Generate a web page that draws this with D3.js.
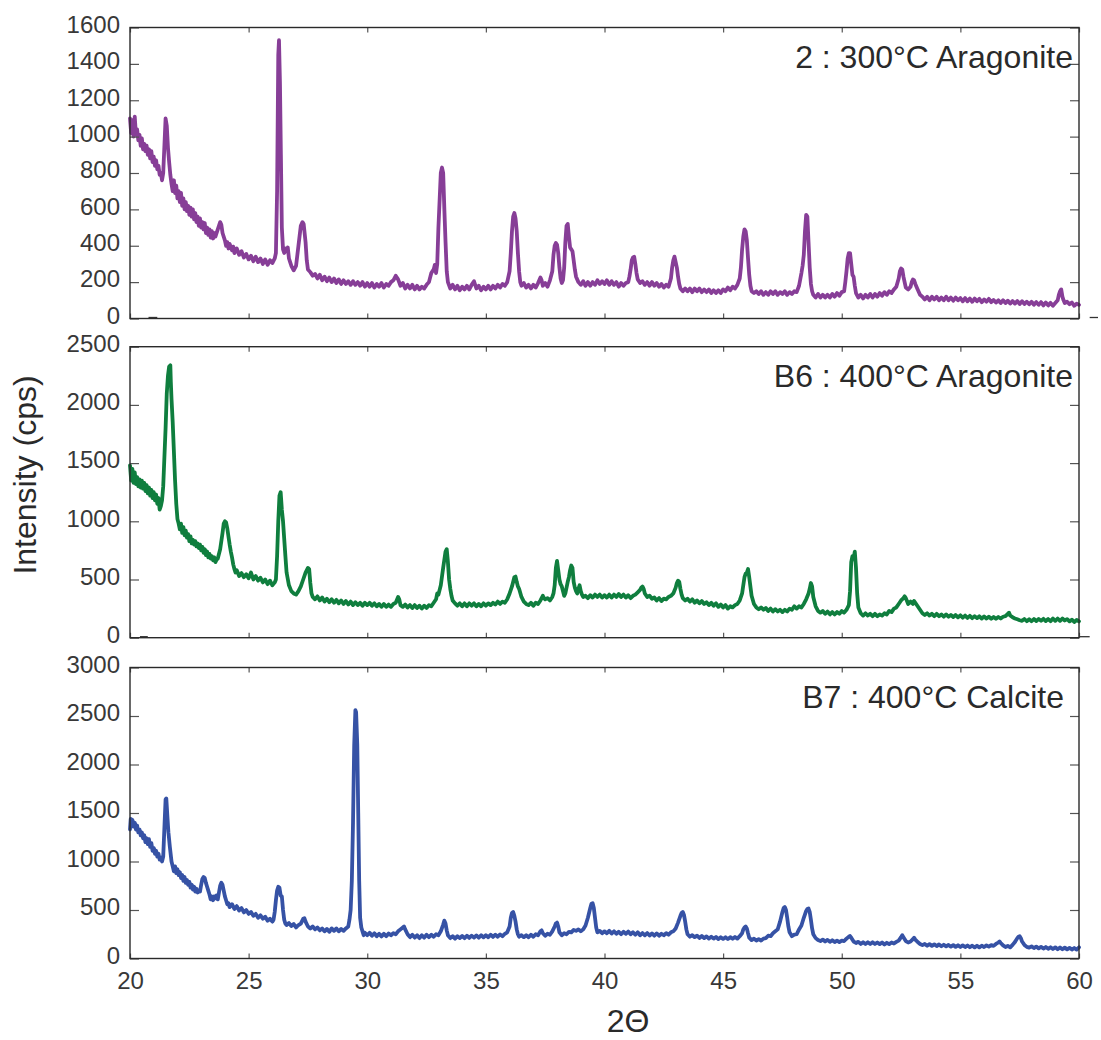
<!DOCTYPE html>
<html>
<head>
<meta charset="utf-8">
<script src="https://cdn.jsdelivr.net/npm/d3@7"></script>
<style>
  html, body { margin: 0; padding: 0; background: #fff; }
  text { font-family: "Liberation Sans", Arial, Helvetica, sans-serif; }
</style>
</head>
<body>
<script>
// ---------------- DATA ----------------
const xTicks = [20, 25, 30, 35, 40, 45, 50, 55, 60];
const yTicksA = [0, 200, 400, 600, 800, 1000, 1200, 1400, 1600];
const yTicksB = [0, 500, 1000, 1500, 2000, 2500];
const yTicksC = [0, 500, 1000, 1500, 2000, 2500, 3000];
const sampleLabels = ["2 : 300°C Aragonite", "B6 : 400°C Aragonite", "B7 : 400°C Calcite"];
const yAxisTitle = "Intensity (cps)";
const xAxisTitle = "2Θ";

// 2 : 300°C Aragonite  [2θ, intensity]
const sample2 = [
[20.0,1100],[20.05,1020],[20.1,1090],[20.15,1000],[20.2,1110],[20.25,1010],[20.3,1040],[20.35,980],[20.4,1010],[20.45,950],
[20.5,990],[20.55,930],[20.6,960],[20.65,920],[20.7,950],[20.75,900],[20.8,930],[20.85,880],[20.9,920],[20.95,860],
[21.0,890],[21.05,840],[21.1,870],[21.15,820],[21.2,840],[21.25,790],[21.3,800],[21.35,760],[21.4,800],[21.45,950],
[21.5,1100],[21.55,1060],[21.6,940],[21.65,860],[21.7,790],[21.75,740],[21.8,700],[21.85,760],[21.9,690],[21.95,730],
[22.0,660],[22.05,700],[22.1,640],[22.15,690],[22.2,620],[22.25,660],[22.3,600],[22.35,640],[22.4,590],[22.45,620],
[22.5,570],[22.55,610],[22.6,560],[22.65,600],[22.7,545],[22.75,580],[22.8,530],[22.85,560],[22.9,510],[22.95,550],
[23.0,500],[23.05,530],[23.1,490],[23.15,525],[23.2,470],[23.25,500],[23.3,460],[23.35,490],[23.4,445],[23.45,480],
[23.5,440],[23.55,470],[23.6,450],[23.7,490],[23.8,530],[23.85,515],[23.9,470],[24.0,430],[24.05,400],[24.1,420],
[24.15,385],[24.2,410],[24.3,375],[24.35,395],[24.4,360],[24.5,385],[24.6,350],[24.7,370],[24.8,335],[24.9,355],
[25.0,325],[25.1,345],[25.2,315],[25.3,340],[25.4,310],[25.5,330],[25.6,300],[25.7,325],[25.8,295],[25.9,320],
[26.0,305],[26.1,330],[26.15,360],[26.2,700],[26.25,1450],[26.28,1530],[26.32,1300],[26.36,900],[26.4,500],[26.45,380],
[26.5,360],[26.55,385],[26.6,370],[26.65,390],[26.7,330],[26.75,310],[26.8,290],[26.9,265],[27.0,290],[27.1,400],
[27.2,510],[27.27,530],[27.32,520],[27.4,420],[27.45,320],[27.5,270],[27.6,255],[27.7,235],[27.8,245],[27.9,220],
[28.0,240],[28.1,210],[28.2,230],[28.3,205],[28.4,225],[28.5,200],[28.6,220],[28.7,195],[28.8,215],[28.9,190],
[29.0,210],[29.1,190],[29.2,205],[29.3,185],[29.4,205],[29.5,185],[29.6,200],[29.7,180],[29.8,200],[29.9,175],
[30.0,195],[30.1,175],[30.2,195],[30.3,170],[30.4,190],[30.5,175],[30.6,195],[30.7,170],[30.8,190],[30.9,180],
[31.0,200],[31.1,210],[31.2,235],[31.3,215],[31.4,180],[31.5,195],[31.6,165],[31.7,185],[31.8,165],[31.9,185],
[32.0,160],[32.1,180],[32.2,160],[32.3,175],[32.4,165],[32.5,185],[32.6,200],[32.7,250],[32.8,270],[32.85,295],
[32.9,250],[32.95,300],[33.0,500],[33.1,800],[33.15,830],[33.2,800],[33.25,600],[33.3,420],[33.35,260],[33.4,200],
[33.5,165],[33.6,185],[33.7,160],[33.8,180],[33.9,155],[34.0,175],[34.1,160],[34.2,180],[34.3,160],[34.4,185],
[34.5,205],[34.6,165],[34.7,180],[34.8,155],[34.9,175],[35.0,160],[35.1,180],[35.2,160],[35.3,180],[35.4,165],
[35.5,185],[35.6,170],[35.7,190],[35.8,180],[35.9,200],[36.0,260],[36.05,360],[36.1,480],[36.15,560],[36.2,580],
[36.25,550],[36.3,480],[36.35,360],[36.4,260],[36.45,200],[36.5,180],[36.6,195],[36.7,170],[36.8,185],[36.9,165],
[37.0,185],[37.1,170],[37.2,195],[37.3,225],[37.35,210],[37.4,180],[37.5,195],[37.6,175],[37.7,210],[37.8,260],
[37.85,350],[37.9,400],[37.95,415],[38.0,405],[38.05,360],[38.1,280],[38.15,220],[38.2,195],[38.25,210],[38.3,280],
[38.35,420],[38.4,510],[38.45,520],[38.5,450],[38.55,390],[38.6,380],[38.65,370],[38.7,320],[38.75,270],[38.8,230],
[38.9,200],[39.0,185],[39.1,205],[39.2,180],[39.3,200],[39.4,180],[39.5,200],[39.6,185],[39.7,210],[39.8,190],
[39.9,205],[40.0,190],[40.1,210],[40.2,185],[40.3,205],[40.4,185],[40.5,200],[40.6,175],[40.7,195],[40.8,180],
[40.9,195],[41.0,200],[41.05,230],[41.1,270],[41.15,320],[41.2,335],[41.25,340],[41.3,300],[41.35,250],[41.4,215],
[41.5,195],[41.6,205],[41.7,185],[41.8,200],[41.9,180],[42.0,200],[42.1,180],[42.2,195],[42.3,175],[42.4,190],
[42.5,170],[42.6,185],[42.7,175],[42.8,220],[42.85,280],[42.9,320],[42.95,340],[43.0,310],[43.05,280],[43.1,230],
[43.15,190],[43.2,165],[43.3,150],[43.4,165],[43.5,150],[43.6,165],[43.7,145],[43.8,165],[43.9,150],[44.0,165],
[44.1,145],[44.2,160],[44.3,145],[44.4,160],[44.5,140],[44.6,155],[44.7,140],[44.8,155],[44.9,140],[45.0,160],
[45.1,150],[45.2,170],[45.3,155],[45.4,175],[45.5,165],[45.6,185],[45.7,220],[45.75,280],[45.8,380],[45.85,450],
[45.9,490],[45.95,480],[46.0,430],[46.05,330],[46.1,240],[46.15,180],[46.2,150],[46.3,140],[46.4,150],[46.5,135],
[46.6,150],[46.7,130],[46.8,145],[46.9,130],[47.0,150],[47.1,135],[47.2,150],[47.3,130],[47.4,145],[47.5,135],
[47.6,150],[47.7,130],[47.8,145],[47.9,135],[48.0,150],[48.1,145],[48.2,180],[48.3,250],[48.35,290],[48.4,350],
[48.45,480],[48.5,570],[48.55,560],[48.6,420],[48.65,280],[48.7,190],[48.75,150],[48.8,130],[48.9,115],[49.0,135],
[49.1,115],[49.2,130],[49.3,115],[49.4,130],[49.5,115],[49.6,135],[49.7,120],[49.8,140],[49.9,125],[50.0,145],
[50.1,150],[50.15,200],[50.2,260],[50.25,330],[50.3,360],[50.35,360],[50.4,300],[50.45,240],[50.5,230],[50.55,180],
[50.6,140],[50.7,115],[50.8,130],[50.9,110],[51.0,130],[51.1,115],[51.2,135],[51.3,115],[51.4,135],[51.5,120],
[51.6,140],[51.7,125],[51.8,145],[51.9,130],[52.0,150],[52.1,140],[52.2,160],[52.3,175],[52.4,220],[52.45,260],
[52.5,275],[52.55,270],[52.6,230],[52.65,200],[52.7,170],[52.8,160],[52.9,175],[52.95,200],[53.0,215],[53.05,210],
[53.1,190],[53.2,160],[53.3,130],[53.4,120],[53.5,105],[53.6,120],[53.7,100],[53.8,120],[53.9,105],[54.0,120],
[54.1,100],[54.2,115],[54.3,100],[54.4,120],[54.5,100],[54.6,115],[54.7,98],[54.8,115],[54.9,100],[55.0,112],
[55.1,95],[55.2,112],[55.3,95],[55.4,110],[55.5,92],[55.6,110],[55.7,95],[55.8,108],[55.9,90],[56.0,105],
[56.1,92],[56.2,108],[56.3,90],[56.4,102],[56.5,88],[56.6,100],[56.7,85],[56.8,100],[56.9,85],[57.0,98],
[57.1,82],[57.2,96],[57.3,82],[57.4,96],[57.5,80],[57.6,95],[57.7,80],[57.8,92],[57.9,78],[58.0,92],
[58.1,76],[58.2,90],[58.3,75],[58.4,90],[58.5,72],[58.6,88],[58.7,72],[58.8,86],[58.9,70],[59.0,85],
[59.1,100],[59.15,130],[59.2,150],[59.25,160],[59.3,120],[59.35,100],[59.4,85],[59.5,92],[59.6,78],[59.7,88],
[59.8,70],[59.9,82],[60.0,75]
];

// B6 : 400°C Aragonite
const sampleB6 = [
[20.0,1480],[20.05,1350],[20.1,1450],[20.15,1330],[20.2,1420],[20.25,1320],[20.3,1380],[20.35,1300],[20.4,1360],[20.45,1290],
[20.5,1350],[20.55,1280],[20.6,1330],[20.65,1260],[20.7,1310],[20.75,1240],[20.8,1290],[20.85,1220],[20.9,1270],[20.95,1200],
[21.0,1250],[21.05,1180],[21.1,1230],[21.15,1150],[21.2,1200],[21.25,1100],[21.3,1130],[21.35,1180],[21.4,1300],[21.45,1550],
[21.5,1800],[21.55,2100],[21.6,2250],[21.65,2330],[21.7,2340],[21.72,2200],[21.75,2050],[21.8,1850],[21.85,1600],[21.9,1350],
[21.95,1150],[22.0,1020],[22.05,980],[22.1,930],[22.15,980],[22.2,900],[22.25,950],[22.3,880],[22.35,920],[22.4,860],
[22.45,890],[22.5,830],[22.55,870],[22.6,810],[22.65,840],[22.7,800],[22.75,830],[22.8,785],[22.85,810],[22.9,770],
[22.95,800],[23.0,750],[23.05,780],[23.1,730],[23.15,760],[23.2,710],[23.25,740],[23.3,690],[23.35,720],[23.4,680],
[23.45,700],[23.5,665],[23.55,690],[23.6,650],[23.65,670],[23.7,680],[23.8,760],[23.9,900],[23.95,980],[24.0,1000],
[24.05,990],[24.1,940],[24.15,870],[24.2,800],[24.25,740],[24.3,690],[24.35,630],[24.4,590],[24.45,560],[24.5,580],
[24.6,530],[24.7,555],[24.8,520],[24.9,545],[25.0,510],[25.1,560],[25.2,500],[25.3,530],[25.4,490],[25.5,515],
[25.6,475],[25.7,500],[25.8,460],[25.9,490],[26.0,450],[26.1,475],[26.15,500],[26.2,700],[26.25,1000],[26.3,1220],
[26.35,1250],[26.4,1100],[26.45,1000],[26.5,850],[26.55,700],[26.6,560],[26.7,450],[26.8,400],[26.9,380],[27.0,370],
[27.1,400],[27.2,440],[27.3,500],[27.4,560],[27.5,600],[27.55,590],[27.6,470],[27.65,380],[27.7,350],[27.8,330],
[27.9,355],[28.0,320],[28.1,345],[28.2,310],[28.3,335],[28.4,305],[28.5,330],[28.6,300],[28.7,325],[28.8,295],
[28.9,320],[29.0,290],[29.1,315],[29.2,285],[29.3,310],[29.4,280],[29.5,305],[29.6,280],[29.7,300],[29.8,275],
[29.9,300],[30.0,280],[30.1,300],[30.2,275],[30.3,295],[30.4,270],[30.5,290],[30.6,265],[30.7,290],[30.8,265],
[30.9,285],[31.0,265],[31.1,290],[31.2,300],[31.3,350],[31.35,330],[31.4,280],[31.5,265],[31.6,285],[31.7,260],
[31.8,280],[31.9,255],[32.0,280],[32.1,255],[32.2,275],[32.3,250],[32.4,275],[32.5,255],[32.6,280],[32.7,270],
[32.8,300],[32.9,330],[32.95,380],[33.0,370],[33.1,450],[33.2,600],[33.3,740],[33.35,760],[33.4,650],[33.45,500],
[33.5,420],[33.55,360],[33.6,320],[33.7,295],[33.8,275],[33.9,295],[34.0,270],[34.1,295],[34.2,270],[34.3,295],
[34.4,275],[34.5,295],[34.6,270],[34.7,290],[34.8,270],[34.9,295],[35.0,275],[35.1,295],[35.2,280],[35.3,300],
[35.4,285],[35.5,310],[35.6,290],[35.7,310],[35.8,300],[35.9,330],[36.0,380],[36.1,440],[36.2,520],[36.25,525],
[36.3,480],[36.35,440],[36.4,420],[36.5,350],[36.6,310],[36.7,290],[36.8,280],[36.9,300],[37.0,275],[37.1,300],
[37.2,290],[37.3,320],[37.4,360],[37.45,340],[37.5,330],[37.6,340],[37.7,320],[37.8,350],[37.85,380],[37.9,450],
[37.95,600],[38.0,660],[38.05,580],[38.1,500],[38.15,460],[38.2,440],[38.25,400],[38.3,360],[38.35,380],[38.4,430],
[38.45,480],[38.5,520],[38.55,580],[38.6,620],[38.65,600],[38.7,480],[38.75,430],[38.8,400],[38.85,380],[38.9,420],
[38.95,450],[39.0,400],[39.05,370],[39.1,350],[39.2,360],[39.3,340],[39.4,365],[39.5,345],[39.6,370],[39.7,350],
[39.8,370],[39.9,345],[40.0,365],[40.1,345],[40.2,370],[40.3,345],[40.4,370],[40.5,350],[40.6,375],[40.7,350],
[40.8,370],[40.9,345],[41.0,365],[41.1,340],[41.2,360],[41.3,370],[41.4,390],[41.5,410],[41.55,430],[41.6,440],
[41.65,420],[41.7,380],[41.8,350],[41.9,360],[42.0,335],[42.1,345],[42.2,320],[42.3,340],[42.4,315],[42.5,335],
[42.6,330],[42.7,350],[42.8,360],[42.9,380],[43.0,430],[43.05,470],[43.1,490],[43.15,480],[43.2,420],[43.25,370],
[43.3,340],[43.4,320],[43.5,335],[43.6,310],[43.7,330],[43.8,300],[43.9,320],[44.0,295],[44.1,315],[44.2,290],
[44.3,305],[44.4,280],[44.5,300],[44.6,275],[44.7,295],[44.8,265],[44.9,285],[45.0,260],[45.1,280],[45.2,250],
[45.3,270],[45.4,260],[45.5,280],[45.6,290],[45.7,320],[45.8,380],[45.85,450],[45.9,520],[45.95,550],[46.0,560],
[46.05,590],[46.1,520],[46.15,440],[46.2,360],[46.3,290],[46.4,260],[46.5,245],[46.6,260],[46.7,240],[46.8,255],
[46.9,230],[47.0,250],[47.1,225],[47.2,245],[47.3,225],[47.4,240],[47.5,220],[47.6,240],[47.7,225],[47.8,250],
[47.9,240],[48.0,270],[48.1,250],[48.2,270],[48.3,260],[48.4,290],[48.5,330],[48.6,380],[48.65,420],[48.7,470],
[48.75,440],[48.8,350],[48.9,270],[49.0,230],[49.1,215],[49.2,230],[49.3,205],[49.4,225],[49.5,200],[49.6,220],
[49.7,200],[49.8,220],[49.9,205],[50.0,230],[50.1,215],[50.2,240],[50.3,280],[50.35,400],[50.4,650],[50.45,700],
[50.5,680],[50.55,740],[50.6,600],[50.65,380],[50.7,260],[50.8,210],[50.9,190],[51.0,210],[51.1,190],[51.2,205],
[51.3,185],[51.4,205],[51.5,185],[51.6,200],[51.7,190],[51.8,210],[51.9,200],[52.0,230],[52.1,220],[52.2,250],
[52.3,260],[52.4,290],[52.5,320],[52.6,340],[52.65,355],[52.7,340],[52.8,290],[52.85,300],[52.9,310],[53.0,290],
[53.05,315],[53.1,300],[53.2,270],[53.3,240],[53.4,210],[53.5,195],[53.6,210],[53.7,190],[53.8,205],[53.9,185],
[54.0,205],[54.1,185],[54.2,200],[54.3,180],[54.4,200],[54.5,180],[54.6,195],[54.7,178],[54.8,195],[54.9,175],
[55.0,192],[55.1,172],[55.2,190],[55.3,170],[55.4,188],[55.5,168],[55.6,185],[55.7,168],[55.8,184],[55.9,165],
[56.0,182],[56.1,164],[56.2,180],[56.3,163],[56.4,178],[56.5,162],[56.6,178],[56.7,165],[56.8,180],[56.9,185],
[57.0,205],[57.05,215],[57.1,190],[57.2,175],[57.3,165],[57.4,158],[57.5,150],[57.6,145],[57.7,160],[57.8,142],
[57.9,158],[58.0,142],[58.1,160],[58.2,143],[58.3,160],[58.4,145],[58.5,162],[58.6,143],[58.7,160],[58.8,142],
[58.9,165],[59.0,145],[59.1,165],[59.2,145],[59.3,165],[59.4,148],[59.5,160],[59.6,140],[59.7,155],[59.8,135],
[59.9,152],[60.0,140]
];

// B7 : 400°C Calcite
const sampleB7 = [
[20.0,1330],[20.03,1440],[20.07,1380],[20.1,1430],[20.15,1360],[20.2,1400],[20.25,1330],[20.3,1370],[20.35,1300],[20.4,1330],
[20.45,1270],[20.5,1300],[20.55,1240],[20.6,1270],[20.65,1200],[20.7,1240],[20.75,1180],[20.8,1230],[20.85,1150],[20.9,1190],
[20.95,1110],[21.0,1140],[21.05,1080],[21.1,1110],[21.15,1050],[21.2,1080],[21.25,1020],[21.3,1040],[21.35,1000],[21.4,1050],
[21.45,1350],[21.5,1640],[21.53,1650],[21.58,1450],[21.62,1300],[21.68,1150],[21.75,1000],[21.8,950],[21.85,900],[21.9,950],
[21.95,880],[22.0,920],[22.05,860],[22.1,890],[22.15,830],[22.2,860],[22.25,800],[22.3,840],[22.35,780],[22.4,810],
[22.45,760],[22.5,790],[22.55,730],[22.6,760],[22.65,710],[22.7,740],[22.75,690],[22.8,720],[22.85,680],[22.9,700],
[22.95,690],[23.0,760],[23.05,820],[23.1,840],[23.15,830],[23.2,780],[23.25,740],[23.3,700],[23.35,660],[23.4,610],
[23.45,640],[23.5,600],[23.55,640],[23.6,620],[23.65,650],[23.7,610],[23.75,680],[23.8,750],[23.85,780],[23.9,760],
[23.95,700],[24.0,640],[24.05,600],[24.1,560],[24.15,570],[24.2,530],[24.3,560],[24.4,510],[24.5,540],[24.6,495],
[24.7,520],[24.8,475],[24.9,500],[25.0,460],[25.1,480],[25.2,440],[25.3,460],[25.4,420],[25.5,445],[25.6,410],
[25.7,430],[25.8,390],[25.9,410],[26.0,380],[26.05,400],[26.1,480],[26.15,600],[26.2,700],[26.25,740],[26.3,730],
[26.35,650],[26.4,640],[26.45,500],[26.5,400],[26.55,360],[26.6,345],[26.7,365],[26.8,335],[26.9,355],[27.0,320],
[27.1,345],[27.2,360],[27.3,410],[27.35,415],[27.4,380],[27.5,330],[27.6,310],[27.7,330],[27.8,300],[27.9,320],
[28.0,290],[28.1,310],[28.2,280],[28.3,305],[28.4,275],[28.5,310],[28.6,285],[28.7,310],[28.8,280],[28.9,305],
[29.0,285],[29.1,310],[29.2,330],[29.25,400],[29.3,500],[29.35,800],[29.4,1400],[29.45,2200],[29.5,2560],[29.53,2540],
[29.58,2200],[29.62,1500],[29.66,800],[29.7,420],[29.75,320],[29.8,280],[29.85,240],[29.9,265],[30.0,240],[30.1,265],
[30.2,235],[30.3,260],[30.4,230],[30.5,255],[30.6,228],[30.7,255],[30.8,230],[30.9,258],[31.0,240],[31.1,262],
[31.2,250],[31.3,280],[31.4,300],[31.5,320],[31.55,330],[31.6,300],[31.7,250],[31.8,220],[31.9,245],[32.0,215],
[32.1,240],[32.2,210],[32.3,240],[32.4,215],[32.5,245],[32.6,220],[32.7,245],[32.8,225],[32.9,250],[33.0,240],
[33.1,280],[33.2,350],[33.25,390],[33.3,360],[33.35,290],[33.4,240],[33.5,210],[33.6,230],[33.7,205],[33.8,230],
[33.9,210],[34.0,232],[34.1,210],[34.2,235],[34.3,212],[34.4,235],[34.5,215],[34.6,238],[34.7,215],[34.8,240],
[34.9,218],[35.0,240],[35.1,220],[35.2,245],[35.3,222],[35.4,245],[35.5,225],[35.6,248],[35.7,230],[35.8,255],
[35.9,270],[36.0,330],[36.05,420],[36.1,470],[36.15,480],[36.2,440],[36.25,380],[36.3,300],[36.35,250],[36.4,225],
[36.5,240],[36.6,220],[36.7,240],[36.8,220],[36.9,245],[37.0,225],[37.1,250],[37.2,240],[37.3,280],[37.35,290],
[37.4,260],[37.5,235],[37.6,255],[37.7,245],[37.8,280],[37.9,330],[37.95,360],[38.0,370],[38.05,330],[38.1,270],
[38.2,240],[38.3,260],[38.4,250],[38.5,275],[38.6,270],[38.7,295],[38.8,285],[38.9,300],[39.0,280],[39.1,300],
[39.2,340],[39.3,420],[39.4,520],[39.45,565],[39.5,570],[39.55,520],[39.6,420],[39.65,320],[39.7,270],[39.8,285],
[39.9,260],[40.0,280],[40.1,260],[40.2,285],[40.3,258],[40.4,280],[40.5,255],[40.6,275],[40.7,250],[40.8,275],
[40.9,255],[41.0,278],[41.1,250],[41.2,270],[41.3,245],[41.4,270],[41.5,240],[41.6,262],[41.7,240],[41.8,262],
[41.9,238],[42.0,258],[42.1,235],[42.2,258],[42.3,235],[42.4,255],[42.5,240],[42.6,262],[42.7,245],[42.8,270],
[42.9,280],[43.0,310],[43.1,370],[43.2,440],[43.25,470],[43.3,480],[43.35,450],[43.4,380],[43.45,300],[43.5,250],
[43.6,225],[43.7,240],[43.8,220],[43.9,235],[44.0,212],[44.1,232],[44.2,210],[44.3,228],[44.4,205],[44.5,225],
[44.6,205],[44.7,222],[44.8,200],[44.9,220],[45.0,202],[45.1,220],[45.2,200],[45.3,220],[45.4,203],[45.5,222],
[45.6,205],[45.7,230],[45.8,260],[45.85,300],[45.9,320],[45.95,330],[46.0,310],[46.05,260],[46.1,215],[46.2,190],
[46.3,205],[46.4,185],[46.5,200],[46.6,185],[46.7,205],[46.8,210],[46.9,235],[47.0,230],[47.1,260],[47.2,280],
[47.3,300],[47.4,380],[47.5,480],[47.55,520],[47.6,530],[47.65,500],[47.7,420],[47.75,330],[47.8,270],[47.9,230],
[48.0,245],[48.1,250],[48.2,300],[48.3,340],[48.4,420],[48.5,490],[48.55,510],[48.6,515],[48.65,480],[48.7,400],
[48.75,310],[48.8,250],[48.9,210],[49.0,190],[49.1,180],[49.2,195],[49.3,175],[49.4,192],[49.5,172],[49.6,188],
[49.7,170],[49.8,185],[49.9,170],[50.0,185],[50.1,180],[50.2,205],[50.3,225],[50.35,232],[50.4,215],[50.5,175],
[50.6,160],[50.7,172],[50.8,150],[50.9,168],[51.0,150],[51.1,168],[51.2,150],[51.3,168],[51.4,150],[51.5,165],
[51.6,148],[51.7,165],[51.8,145],[51.9,162],[52.0,148],[52.1,165],[52.2,155],[52.3,172],[52.4,185],[52.5,220],
[52.55,240],[52.6,220],[52.7,180],[52.8,165],[52.9,175],[53.0,200],[53.05,215],[53.1,195],[53.2,170],[53.3,150],
[53.4,138],[53.5,150],[53.6,132],[53.7,148],[53.8,130],[53.9,146],[54.0,128],[54.1,145],[54.2,126],[54.3,142],
[54.4,125],[54.5,140],[54.6,122],[54.7,138],[54.8,120],[54.9,136],[55.0,118],[55.1,135],[55.2,118],[55.3,134],
[55.4,116],[55.5,132],[55.6,115],[55.7,132],[55.8,115],[55.9,132],[56.0,118],[56.1,135],[56.2,122],[56.3,138],
[56.4,130],[56.5,150],[56.6,165],[56.65,175],[56.7,160],[56.8,135],[56.9,118],[57.0,130],[57.1,115],[57.2,140],
[57.3,170],[57.4,210],[57.45,225],[57.5,230],[57.55,210],[57.6,175],[57.7,140],[57.8,120],[57.9,112],[58.0,125],
[58.1,108],[58.2,122],[58.3,105],[58.4,120],[58.5,103],[58.6,118],[58.7,100],[58.8,116],[58.9,98],[59.0,115],
[59.1,96],[59.2,114],[59.3,95],[59.4,112],[59.5,94],[59.6,110],[59.7,92],[59.8,108],[59.9,92],[60.0,115]
];

// ---------------- DRAWING ----------------
const W = 1101, H = 1040;
const X0 = 130, X1 = 1079;
const panelH = 291;
const panels = [
  { data: sample2,  ticks: yTicksA, max: 1600, color: "#873e97", top: 27.5,  label: sampleLabels[0], labelX: 1073 },
  { data: sampleB6, ticks: yTicksB, max: 2500, color: "#0f7e3e", top: 346.7, label: sampleLabels[1], labelX: 1073 },
  { data: sampleB7, ticks: yTicksC, max: 3000, color: "#3652a5", top: 667.5, label: sampleLabels[2], labelX: 1064 }
];

const svg = d3.select("body").append("svg")
  .attr("width", W).attr("height", H)
  .attr("viewBox", `0 0 ${W} ${H}`);

const x = d3.scaleLinear().domain([20, 60]).range([X0, X1]);

panels.forEach((p, i) => {
  const bottom = p.top + panelH;
  const y = d3.scaleLinear().domain([0, p.max]).range([bottom, p.top]);
  const g = svg.append("g");

  // data line
  g.append("path")
    .datum(p.data)
    .attr("d", d3.line().x(d => x(d[0])).y(d => y(d[1])))
    .attr("fill", "none")
    .attr("stroke", p.color)
    .attr("stroke-width", 3.8)
    .attr("stroke-linejoin", "round")
    .attr("stroke-linecap", "round");

  // left axis (inside ticks, labels outside)
  const la = g.append("g").attr("transform", `translate(${X0},0)`)
    .call(d3.axisLeft(y).tickValues(p.ticks).tickSize(-9).tickPadding(10).tickFormat(d3.format("d")));
  la.select(".domain").remove();
  la.selectAll("line").attr("stroke", "#555").attr("stroke-width", 1.2);
  la.selectAll("text").attr("font-size", 24).attr("fill", "#383838").attr("dy", "0.2em")
    .style("font-family", "'Liberation Sans', Arial, sans-serif");

  // right axis ticks
  const ra = g.append("g").attr("transform", `translate(${X1},0)`)
    .call(d3.axisRight(y).tickValues(p.ticks).tickSize(-9).tickFormat(""));
  ra.select(".domain").remove();
  ra.selectAll("line").attr("stroke", "#555").attr("stroke-width", 1.2);

  // top axis ticks
  const ta = g.append("g").attr("transform", `translate(0,${p.top})`)
    .call(d3.axisTop(x).tickValues(xTicks).tickSize(-5).tickFormat(""));
  ta.select(".domain").remove();
  ta.selectAll("line").attr("stroke", "#555").attr("stroke-width", 1.2);

  // bottom axis
  const ba = g.append("g").attr("transform", `translate(0,${bottom})`)
    .call(d3.axisBottom(x).tickValues(xTicks).tickSize(-5).tickPadding(13)
      .tickFormat(i === 2 ? d3.format("d") : ""));
  ba.select(".domain").remove();
  ba.selectAll("line").attr("stroke", "#555").attr("stroke-width", 1.2);
  ba.selectAll("text").attr("font-size", 24).attr("fill", "#383838")
    .style("font-family", "'Liberation Sans', Arial, sans-serif");

  // frame
  g.append("rect")
    .attr("x", X0).attr("y", p.top)
    .attr("width", X1 - X0).attr("height", panelH)
    .attr("fill", "none").attr("stroke", "#2a2a2a").attr("stroke-width", 1.4);

  // sample label
  g.append("text")
    .attr("x", p.labelX).attr("y", p.top + 40.5)
    .attr("text-anchor", "end")
    .attr("font-size", 32)
    .attr("fill", "#2a2a2a")
    .text(p.label);
});

// small stray marks present in the original figure
const stray = [
  { panel: 0, a: 20.78, b: 21.15 },
  { panel: 0, a: 60.45, b: 60.8 },
  { panel: 1, a: 20.42, b: 20.75 },
  { panel: 1, a: 60.0, b: 60.45 }
];
stray.forEach(s => {
  const bottom = panels[s.panel].top + panelH;
  svg.append("line")
    .attr("x1", x(s.a)).attr("x2", x(s.b))
    .attr("y1", bottom - 1).attr("y2", bottom - 1)
    .attr("stroke", "#333").attr("stroke-width", 1.3);
});

// axis titles
svg.append("text")
  .attr("transform", "translate(36,475) rotate(-90)")
  .attr("text-anchor", "middle")
  .attr("font-size", 32)
  .attr("fill", "#2a2a2a")
  .text(yAxisTitle);

svg.append("text")
  .attr("x", 628).attr("y", 1032)
  .attr("text-anchor", "middle")
  .attr("font-size", 32)
  .attr("fill", "#2a2a2a")
  .text(xAxisTitle);
</script>
</body>
</html>
